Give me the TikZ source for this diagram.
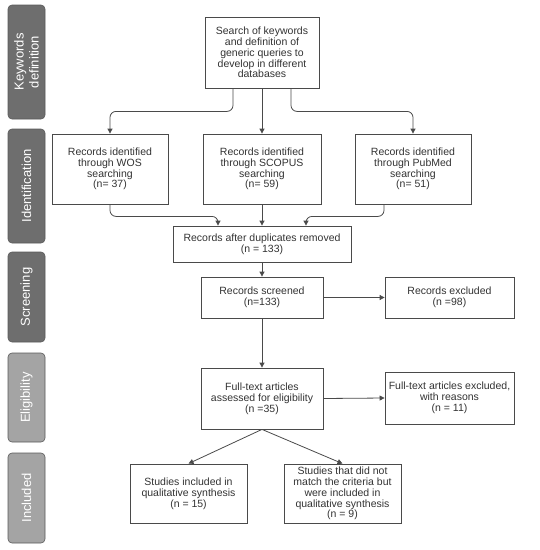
\documentclass[tikz,border=0pt]{standalone}
\usepackage{fontspec}
\setmainfont{Liberation Sans}
\usetikzlibrary{arrows.meta}
\definecolor{darkside}{HTML}{6E6E6E}
\definecolor{lightside}{HTML}{A4A4A4}
\definecolor{sideline}{HTML}{5A5A5A}
\definecolor{boxline}{HTML}{4A4A4A}
\begin{document}
\begin{tikzpicture}[x=1pt,y=-1pt,
  box/.style={draw=boxline,line width=0.8pt,fill=white,align=center,inner sep=1pt,
    font=\fontsize{10.5}{10.8}\selectfont,text=black!80},
  side/.style={draw=sideline,line width=0.6pt,rounded corners=4pt,
    minimum width=37pt,inner sep=0pt},
  sidetext/.style={rotate=90,text=white,align=center,font=\fontsize{13}{15}\selectfont},
  conn/.style={draw=boxline,line width=0.8pt,-{Triangle[length=5pt,width=5pt]},rounded corners=6pt}]
\useasboundingbox (0,0) rectangle (540,550);
% side bars
\node[side,fill=darkside,minimum height=114pt] (s1) at (26.5,62) {};
\node[sidetext] (t1) at (s1.center) {Keywords\\definition};
\node[side,fill=darkside,minimum height=114pt] (s2) at (26.5,186) {};
\node[sidetext] (t2) at (s2.center) {Identification};
\node[side,fill=darkside,minimum height=90pt] (s3) at (26.5,297) {};
\node[sidetext] (t3) at (s3.center) {Screening};
\node[side,fill=lightside,minimum height=89pt] (s4) at (26.5,397.5) {};
\node[sidetext] (t4) at (s4.center) {Eligibility};
\node[side,fill=lightside,minimum height=90pt] (s5) at (26.5,498) {};
\node[sidetext] (t5) at (s5.center) {Included};
% boxes
\node[box,minimum width=114pt,minimum height=71pt] (search) at (262,52.5)
  {Search of keywords\\and definition of\\generic queries to\\develop in different\\databases};
\node[box,minimum width=116pt,minimum height=70pt] (wos) at (110,169)
  {Records identified\\through WOS\\searching\\(n= 37)};
\node[box,minimum width=118pt,minimum height=70pt] (scopus) at (262,169)
  {Records identified\\through SCOPUS\\searching\\(n= 59)};
\node[box,minimum width=116pt,minimum height=70pt] (pubmed) at (413,169)
  {Records identified\\through PubMed\\searching\\(n= 51)};
\node[box,minimum width=178pt,minimum height=36pt] (dup) at (262,244)
  {Records after duplicates removed\\(n = 133)};
\node[box,minimum width=122pt,minimum height=41pt] (screen) at (262,297.5)
  {Records screened\\(n=133)};
\node[box,minimum width=129pt,minimum height=41pt] (excl) at (449.5,297.5)
  {Records excluded\\(n =98)};
\node[box,minimum width=122pt,minimum height=61pt] (full) at (262,398.5)
  {Full-text articles\\assessed for eligibility\\(n =35)};
\node[box,minimum width=129pt,minimum height=52pt] (fexcl) at (449.5,398)
  {Full-text articles excluded,\\with reasons\\(n = 11)};
\node[box,minimum width=117pt,minimum height=59pt] (inc1) at (188.5,493.5)
  {Studies included in\\qualitative synthesis\\(n = 15)};
\node[box,minimum width=117pt,minimum height=59pt] (inc2) at (342.5,493.5)
  {Studies that did not\\match the criteria but\\were included in\\qualitative synthesis\\(n = 9)};
% connectors
\draw[conn] ([xshift=-29pt]search.south) -- ++(0,23) -| (wos.north);
\draw[conn] (search.south) -- (scopus.north);
\draw[conn] ([xshift=29pt]search.south) -- ++(0,23) -| (pubmed.north);
\draw[conn] (wos.south) -- ++(0,12) -| ([xshift=-44pt]dup.north);
\draw[conn] (scopus.south) -- (dup.north);
\draw[conn] ([xshift=-29pt]pubmed.south) -- ++(0,12) -| ([xshift=44pt]dup.north);
\draw[conn] (dup.south) -- (screen.north);
\draw[conn] (screen.east) -- (excl.west);
\draw[conn] (screen.south) -- (full.north);
\draw[conn] (full.east) -- (fexcl.west);
\draw[conn] (full.south) -- (inc1.north);
\draw[conn] (full.south) -- (inc2.north);
\end{tikzpicture}
\end{document}
